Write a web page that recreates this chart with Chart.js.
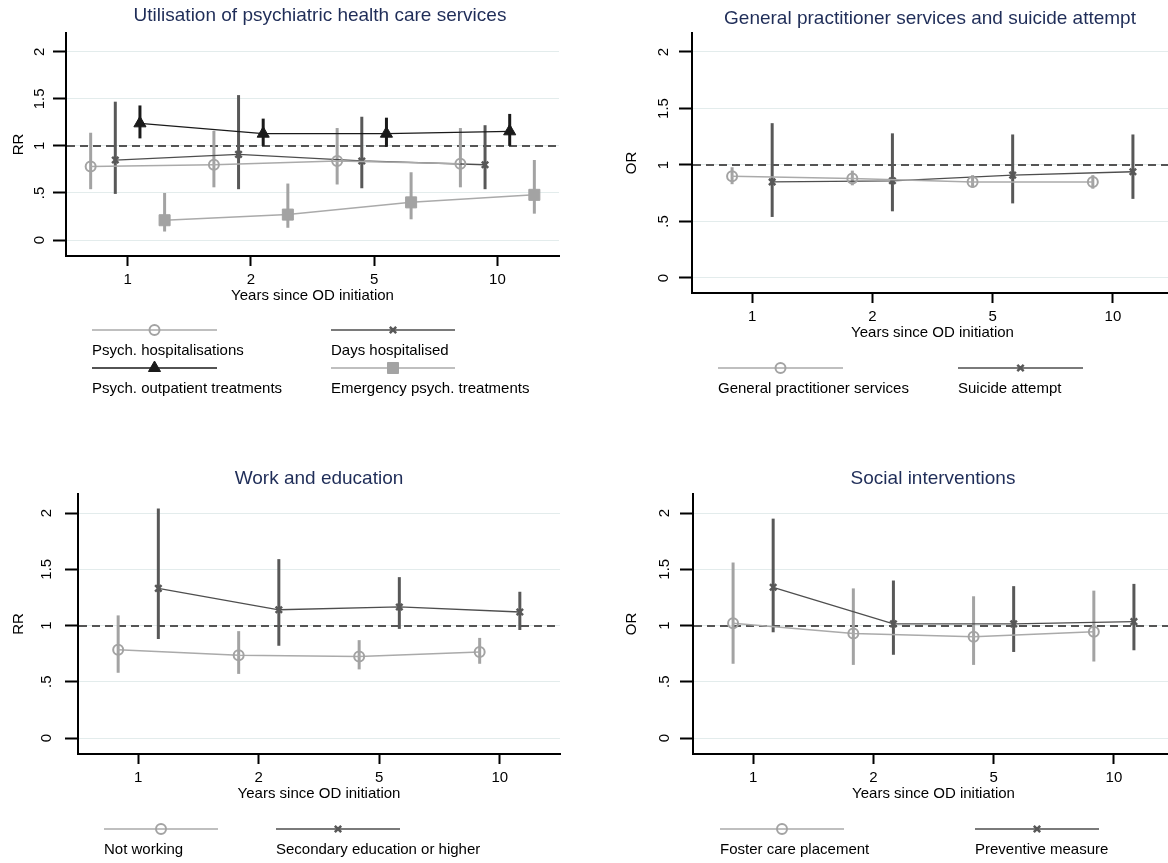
<!DOCTYPE html>
<html><head><meta charset="utf-8">
<script src="https://cdn.jsdelivr.net/npm/chart.js@4.4.1/dist/chart.umd.min.js"></script>
<style>
html,body{margin:0;padding:0;background:#fff;overflow:hidden;width:1168px;height:863px;}
#wrap{position:relative;width:1168px;height:863px;overflow:hidden;background:#fff;}
canvas{position:absolute;}
</style></head><body>
<div id="wrap">
<canvas id="p1" width="584" height="431" style="left:0;top:0"></canvas>
<canvas id="p2" width="600" height="431" style="left:584px;top:0"></canvas>
<canvas id="p3" width="584" height="432" style="left:0;top:431px"></canvas>
<canvas id="p4" width="600" height="432" style="left:584px;top:431px"></canvas>
</div>
<script>
// ---------------- data ----------------
const yearLabels = ['1', '2', '5', '10'];
const yTickValues = [0, 0.5, 1, 1.5, 2];
const yTickLabels = ['0', '.5', '1', '1.5', '2'];
const referenceValue = 1;
const xAxisTitle = 'Years since OD initiation';

// Panel 1: Utilisation of psychiatric health care services (RR)
const psychHospEst = [0.78, 0.80, 0.84, 0.81];
const psychHospLo  = [0.54, 0.56, 0.59, 0.56];
const psychHospHi  = [1.14, 1.16, 1.19, 1.19];
const daysHospEst  = [0.85, 0.91, 0.84, 0.80];
const daysHospLo   = [0.49, 0.54, 0.55, 0.54];
const daysHospHi   = [1.47, 1.54, 1.31, 1.22];
const outpatEst    = [1.24, 1.13, 1.13, 1.155];
const outpatLo     = [1.08, 1.00, 0.99, 1.00];
const outpatHi     = [1.43, 1.29, 1.30, 1.34];
const emergEst     = [0.21, 0.27, 0.40, 0.48];
const emergLo      = [0.09, 0.13, 0.22, 0.28];
const emergHi      = [0.50, 0.60, 0.72, 0.85];

// Panel 2: General practitioner services and suicide attempt (OR)
const gpEst      = [0.90, 0.88, 0.85, 0.85];
const gpLo       = [0.83, 0.82, 0.80, 0.79];
const gpHi       = [0.98, 0.95, 0.91, 0.91];
const suicideEst = [0.85, 0.86, 0.91, 0.94];
const suicideLo  = [0.54, 0.59, 0.66, 0.70];
const suicideHi  = [1.37, 1.28, 1.27, 1.27];

// Panel 3: Work and education (RR)
const notWorkingEst = [0.785, 0.735, 0.725, 0.765];
const notWorkingLo  = [0.58, 0.57, 0.61, 0.66];
const notWorkingHi  = [1.09, 0.95, 0.87, 0.89];
const secEduEst     = [1.33, 1.14, 1.165, 1.12];
const secEduLo      = [0.88, 0.82, 0.97, 0.96];
const secEduHi      = [2.04, 1.59, 1.43, 1.30];

// Panel 4: Social interventions (OR)
const fosterEst  = [1.02, 0.93, 0.90, 0.945];
const fosterLo   = [0.66, 0.65, 0.65, 0.68];
const fosterHi   = [1.56, 1.33, 1.26, 1.31];
const preventEst = [1.34, 1.015, 1.015, 1.035];
const preventLo  = [0.94, 0.74, 0.765, 0.78];
const preventHi  = [1.95, 1.40, 1.35, 1.37];

// ---------------- styles ----------------
const FONT = '"Liberation Sans", Arial, Helvetica, sans-serif';
Chart.defaults.font.family = FONT;
Chart.defaults.font.size = 15;
Chart.defaults.color = '#000';

const LIGHT = '#a3a3a3', DARK = '#585858', BLACK = '#1a1a1a';
const styles = {
  hollowCircle: {pointStyle: 'circle', radius: 5, pbw: 2, fill: 'rgba(0,0,0,0)', color: LIGHT, line: '#aaaaaa', lw: 1.5, ci: LIGHT, ciw: 3},
  darkCross:    {pointStyle: 'crossRot', radius: 4.5, pbw: 2.5, fill: DARK, color: DARK, line: '#4e4e4e', lw: 1.3, ci: DARK, ciw: 3},
  blackTri:     {pointStyle: 'triangle', radius: 7, pbw: 1, fill: BLACK, color: BLACK, line: BLACK, lw: 1.3, ci: BLACK, ciw: 3},
  graySquare:   {pointStyle: 'rect', radius: 7.8, pbw: 1, fill: LIGHT, color: LIGHT, line: '#aaaaaa', lw: 1.5, ci: LIGHT, ciw: 3}
};

function makeDataset(s, i, n, step) {
  const st = styles[s.style];
  const offset = (i - (n - 1) / 2) * step;
  return {
    label: s.label,
    data: s.est.map((v, k) => ({x: k + offset, y: v})),
    ciLow: s.lo, ciHigh: s.hi, ciColor: st.ci, ciWidth: st.ciw,
    borderColor: st.line, borderWidth: st.lw,
    pointStyle: st.pointStyle, pointRadius: st.radius, pointHoverRadius: st.radius,
    pointBorderColor: st.color, pointBackgroundColor: st.fill, pointBorderWidth: st.pbw,
    tension: 0, fill: false
  };
}

// ---------------- plugins ----------------
const refLinePlugin = {
  id: 'refLine',
  beforeDatasetsDraw(chart) {
    const {ctx, chartArea: a, scales: {y}} = chart;
    const py = Math.round(y.getPixelForValue(referenceValue));
    ctx.save();
    ctx.strokeStyle = '#555555'; ctx.lineWidth = 2; ctx.setLineDash([8, 5]);
    ctx.beginPath(); ctx.moveTo(a.left + 1, py); ctx.lineTo(a.right, py); ctx.stroke();
    ctx.restore();
  }
};

const ciPlugin = {
  id: 'ciSpikes',
  beforeDatasetsDraw(chart) {
    const {ctx, chartArea: a, scales: {x, y}} = chart;
    ctx.save();
    ctx.beginPath(); ctx.rect(a.left, a.top, a.right - a.left, a.bottom - a.top); ctx.clip();
    chart.data.datasets.forEach(ds => {
      if (!ds.ciLow) return;
      ctx.strokeStyle = ds.ciColor; ctx.lineWidth = ds.ciWidth; ctx.lineCap = 'butt';
      ds.data.forEach((pt, k) => {
        const px = x.getPixelForValue(pt.x);
        ctx.beginPath();
        ctx.moveTo(px, y.getPixelForValue(ds.ciLow[k]));
        ctx.lineTo(px, y.getPixelForValue(ds.ciHigh[k]));
        ctx.stroke();
      });
    });
    ctx.restore();
  }
};

function fallbackDrawPoint(ctx, o, x, y) {
  const r = o.radius;
  ctx.beginPath();
  if (o.pointStyle === 'circle') ctx.arc(x, y, r, 0, Math.PI * 2);
  else if (o.pointStyle === 'rect') { const s = r * Math.SQRT1_2; ctx.rect(x - s, y - s, 2 * s, 2 * s); }
  else if (o.pointStyle === 'triangle') { ctx.moveTo(x, y - r); ctx.lineTo(x + r * 0.866, y + r / 2); ctx.lineTo(x - r * 0.866, y + r / 2); ctx.closePath(); }
  else { const d = r * Math.SQRT1_2; ctx.moveTo(x - d, y - d); ctx.lineTo(x + d, y + d); ctx.moveTo(x - d, y + d); ctx.lineTo(x + d, y - d); }
  ctx.fill(); if (o.borderWidth > 0) ctx.stroke();
}
const drawPoint = (Chart.helpers && Chart.helpers.drawPoint) ? Chart.helpers.drawPoint : fallbackDrawPoint;

const legendPlugin = {
  id: 'stataLegend',
  afterDraw(chart, args, opts) {
    const ctx = chart.ctx;
    (opts.items || []).forEach(item => {
      const ds = chart.data.datasets[item.dataset];
      ctx.save();
      ctx.strokeStyle = ds.borderColor; ctx.lineWidth = ds.borderWidth;
      ctx.beginPath(); ctx.moveTo(item.x0, item.lineY); ctx.lineTo(item.x1, item.lineY); ctx.stroke();
      ctx.fillStyle = ds.pointBackgroundColor; ctx.strokeStyle = ds.pointBorderColor; ctx.lineWidth = ds.pointBorderWidth;
      drawPoint(ctx, {pointStyle: ds.pointStyle, radius: ds.pointRadius, borderWidth: ds.pointBorderWidth, rotation: 0}, (item.x0 + item.x1) / 2, item.lineY);
      ctx.fillStyle = '#000'; ctx.font = '15px ' + FONT; ctx.textAlign = 'left'; ctx.textBaseline = 'middle';
      ctx.fillText(ds.label, item.x0, item.textY);
      ctx.restore();
    });
  }
};

const titlePlugin = {
  id: 'panelTitle',
  afterDraw(chart, args, o) {
    const ctx = chart.ctx;
    ctx.save();
    ctx.font = '19px ' + FONT; ctx.fillStyle = '#1f2d58'; ctx.textAlign = 'center'; ctx.textBaseline = 'alphabetic';
    ctx.fillText(o.text, o.x, o.y);
    ctx.restore();
  }
};

// ---------------- chart factory ----------------
function makeChart(id, cfg) {
  const canvas = document.getElementById(id);
  const W = canvas.width, H = canvas.height, a = cfg.area, xAxisH = 49;
  const n = cfg.series.length;
  return new Chart(canvas, {
    type: 'line',
    data: {datasets: cfg.series.map((s, i) => makeDataset(s, i, n, cfg.dodge))},
    options: {
      responsive: false, animation: false, events: [],
      layout: {padding: {left: 0, top: a.top, right: W - a.right, bottom: H - a.bottom - xAxisH}},
      plugins: {
        legend: {display: false}, tooltip: {enabled: false}, title: {display: false},
        panelTitle: {text: cfg.title, x: cfg.titleX, y: cfg.titleY},
        stataLegend: {items: cfg.legend}
      },
      scales: {
        x: {
          type: 'linear', min: -0.5, max: 3.5,
          afterBuildTicks: sc => { sc.ticks = yearLabels.map((_, i) => ({value: i})); },
          afterFit: sc => { sc.height = xAxisH; },
          ticks: {callback: (v, i) => yearLabels[i], color: '#000', font: {size: 15}, padding: 5, autoSkip: false, maxRotation: 0},
          grid: {drawOnChartArea: false, drawTicks: true, tickLength: 10, tickColor: '#000', tickWidth: 2},
          border: {display: true, color: '#000', width: 2},
          title: {display: true, text: xAxisTitle, color: '#000', font: {size: 15}, padding: 0}
        },
        y: {
          type: 'linear', min: cfg.yMin, max: cfg.yMax,
          afterBuildTicks: sc => { sc.ticks = yTickValues.map(v => ({value: v})); },
          afterFit: sc => { sc.width = a.left; },
          ticks: {callback: (v, i) => yTickLabels[i], minRotation: 90, maxRotation: 90, crossAlign: 'center',
                  padding: cfg.yLabelPad, color: '#000', font: {size: 15}, autoSkip: false},
          grid: {color: '#e3ecec', lineWidth: 1, drawTicks: true, tickLength: 13, tickColor: '#000', tickWidth: 2},
          border: {display: true, color: '#000', width: 2},
          title: {display: true, text: cfg.yTitle, color: '#000', font: {size: 15}, padding: {top: cfg.yTitlePad, bottom: 0}}
        }
      }
    },
    plugins: [refLinePlugin, ciPlugin, titlePlugin, legendPlugin]
  });
}

makeChart('p1', {
  title: 'Utilisation of psychiatric health care services', titleX: 320, titleY: 21,
  area: {left: 66, right: 559, top: 33, bottom: 256}, yMin: -0.17, yMax: 2.2,
  yTitle: 'RR', yTitlePad: 9.6, yLabelPad: 2.6, dodge: 0.2,
  series: [
    {label: 'Psych. hospitalisations', est: psychHospEst, lo: psychHospLo, hi: psychHospHi, style: 'hollowCircle'},
    {label: 'Days hospitalised', est: daysHospEst, lo: daysHospLo, hi: daysHospHi, style: 'darkCross'},
    {label: 'Psych. outpatient treatments', est: outpatEst, lo: outpatLo, hi: outpatHi, style: 'blackTri'},
    {label: 'Emergency psych. treatments', est: emergEst, lo: emergLo, hi: emergHi, style: 'graySquare'}
  ],
  legend: [
    {dataset: 0, x0: 92, x1: 217, lineY: 330, textY: 351},
    {dataset: 1, x0: 331, x1: 455, lineY: 330, textY: 351},
    {dataset: 2, x0: 92, x1: 217, lineY: 368, textY: 389},
    {dataset: 3, x0: 331, x1: 455, lineY: 368, textY: 389}
  ]
});

makeChart('p2', {
  title: 'General practitioner services and suicide attempt', titleX: 346, titleY: 24,
  area: {left: 108, right: 589, top: 33, bottom: 293}, yMin: -0.133, yMax: 2.168,
  yTitle: 'OR', yTitlePad: 39, yLabelPad: 4.6, dodge: 1 / 3,
  series: [
    {label: 'General practitioner services', est: gpEst, lo: gpLo, hi: gpHi, style: 'hollowCircle'},
    {label: 'Suicide attempt', est: suicideEst, lo: suicideLo, hi: suicideHi, style: 'darkCross'}
  ],
  legend: [
    {dataset: 0, x0: 134, x1: 259, lineY: 368, textY: 389},
    {dataset: 1, x0: 374, x1: 499, lineY: 368, textY: 389}
  ]
});

makeChart('p3', {
  title: 'Work and education', titleX: 319, titleY: 53,
  area: {left: 78, right: 560, top: 63, bottom: 323}, yMin: -0.142, yMax: 2.169,
  yTitle: 'RR', yTitlePad: 9.6, yLabelPad: 7.6, dodge: 1 / 3,
  series: [
    {label: 'Not working', est: notWorkingEst, lo: notWorkingLo, hi: notWorkingHi, style: 'hollowCircle'},
    {label: 'Secondary education or higher', est: secEduEst, lo: secEduLo, hi: secEduHi, style: 'darkCross'}
  ],
  legend: [
    {dataset: 0, x0: 104, x1: 218, lineY: 398, textY: 419},
    {dataset: 1, x0: 276, x1: 400, lineY: 398, textY: 419}
  ]
});

makeChart('p4', {
  title: 'Social interventions', titleX: 349, titleY: 53,
  area: {left: 109, right: 590, top: 63, bottom: 323}, yMin: -0.142, yMax: 2.169,
  yTitle: 'OR', yTitlePad: 39, yLabelPad: 4.6, dodge: 1 / 3,
  series: [
    {label: 'Foster care placement', est: fosterEst, lo: fosterLo, hi: fosterHi, style: 'hollowCircle'},
    {label: 'Preventive measure', est: preventEst, lo: preventLo, hi: preventHi, style: 'darkCross'}
  ],
  legend: [
    {dataset: 0, x0: 136, x1: 260, lineY: 398, textY: 419},
    {dataset: 1, x0: 391, x1: 515, lineY: 398, textY: 419}
  ]
});
</script>
</body></html>
